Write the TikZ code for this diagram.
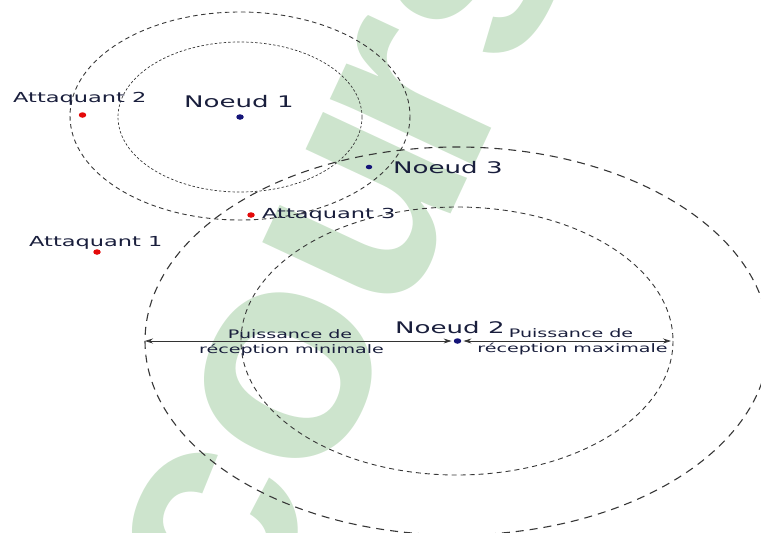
\documentclass[tikz,border=0pt]{standalone}
\usepackage{graphicx}
\usepackage{fontspec}
\setmainfont{DejaVu Sans}
\newfontfamily\wmfont{Liberation Sans}
\usetikzlibrary{arrows.meta,shapes.geometric}

\definecolor{wmgreen}{RGB}{205,228,205}
\definecolor{nodeblue}{RGB}{20,20,120}
\definecolor{attred}{RGB}{228,10,10}
\definecolor{inkc}{RGB}{25,30,60}
\definecolor{ringgray}{RGB}{55,55,55}

% every label is set horizontally widened
\newcommand\wideText[1]{\scalebox{1.63}[1]{#1}}

\begin{document}
\begin{tikzpicture}[x=1pt,y=-1pt,
  lbl/.style={inner sep=0pt, anchor=base west, text=inkc},
  nodelbl/.style={lbl, font=\fontsize{16pt}{18pt}\selectfont},
  attlbl/.style={lbl, font=\fontsize{13.8pt}{16pt}\selectfont},
  rangelbl/.style={inner sep=0pt, anchor=base, text=inkc, font=\fontsize{11.7pt}{14pt}\selectfont},
  dotshape/.style={ellipse, inner sep=0pt, minimum width=7.5pt, minimum height=5.5pt},
  nodedot/.style={dotshape, fill=nodeblue},
  attdot/.style={dotshape, fill=attred},
  ringA/.style={draw=ringgray, line width=0.7pt, dash pattern=on 2.5pt off 2pt},
  ringB/.style={draw=ringgray, line width=0.9pt, dash pattern=on 4.5pt off 3.5pt},
  ringC/.style={draw=ringgray, line width=0.9pt, dash pattern=on 5pt off 4pt},
  ringD/.style={draw=ringgray, line width=1.1pt, dash pattern=on 8pt off 6pt},
  rangearrow/.style={draw=black!80, line width=0.7pt,
    {Stealth[length=8pt,width=5pt]}-{Stealth[length=8pt,width=5pt]}}
]
\useasboundingbox (0,0) rectangle (761,533);
\clip (0,0) rectangle (761,533);

% background watermark lettering
\node[rotate=65, inner sep=0pt, text=wmgreen,
      font=\wmfont\bfseries\fontsize{300pt}{300pt}\selectfont] (wm) at (346,252) {cou\kern-0.09em rs};

% coverage rings
\draw[ringA] (240,117) ellipse [x radius=122, y radius=75];
\draw[ringB] (240,116) ellipse [x radius=170, y radius=104];
\draw[ringC] (457,341) ellipse [x radius=216, y radius=134];
\draw[ringD] (457,341) ellipse [x radius=312, y radius=194];

% nodes and attackers
\node[nodedot] (n1) at (240,117) {};
\node[nodedot, minimum width=6.5pt, minimum height=4.5pt] (n3) at (369,167) {};
\node[nodedot] (n2) at (457.5,341) {};
\node[attdot] (a1) at (97,252) {};
\node[attdot] (a2) at (82.5,115) {};
\node[attdot] (a3) at (251,215) {};

\node[nodelbl] (n1l) at (184,107) {\wideText{Noeud 1}};
\node[nodelbl] (n3l) at (393,173) {\wideText{Noeud 3}};
\node[nodelbl] (n2l) at (395,333) {\wideText{Noeud 2}};
\node[attlbl] (a2l) at (13,102) {\wideText{Attaquant 2}};
\node[attlbl] (a1l) at (29,246.5) {\wideText{Attaquant 1}};
\node[attlbl] (a3l) at (262,218) {\wideText{Attaquant 3}};

% reception ranges of Noeud 2
\coordinate (minedge) at (145,341);
\coordinate (maxedge) at (671,341);
\draw[rangearrow, shorten >=2pt] (minedge) -- (n2);
\draw[rangearrow, shorten <=2pt] (n2) -- (maxedge);

\node[rangelbl] (pmin1) at (290,338.5) {\wideText{Puissance de}};
\node[rangelbl] (pmin2) at (291.5,353) {\wideText{réception minimale}};
\node[rangelbl] (pmax1) at (571,337.5) {\wideText{Puissance de}};
\node[rangelbl] (pmax2) at (572.5,352.5) {\wideText{réception maximale}};
\end{tikzpicture}
\end{document}
